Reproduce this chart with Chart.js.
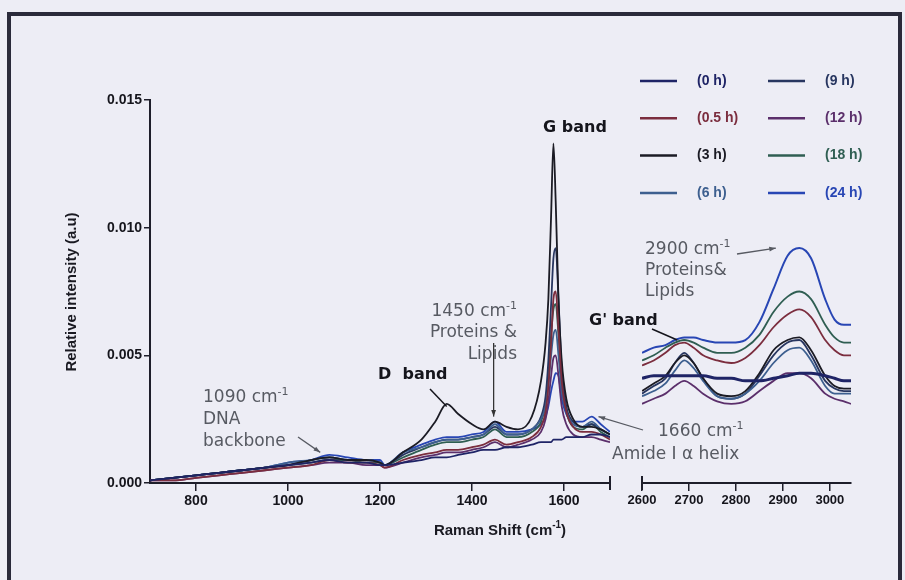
<!DOCTYPE html>
<html>
<head>
<meta charset="utf-8">
<script src="https://cdn.jsdelivr.net/npm/chart.js@4.4.0/dist/chart.umd.min.js"></script>
<style>
  html, body { margin: 0; padding: 0; width: 905px; height: 580px; overflow: hidden; background: #ededf5; }
  #frame { position: absolute; left: 7px; top: 12px; width: 887px; height: 620px; border: 4px solid #2a2a3a; }
  canvas { position: absolute; left: 0; top: 0; }
</style>
</head>
<body>
<div id="frame"></div>
<canvas id="left" width="905" height="580"></canvas>
<canvas id="right" width="905" height="580"></canvas>
<script>
// series (legend order: column 1 then column 2)
const seriesNames = ['(0 h)', '(0.5 h)', '(3 h)', '(6 h)', '(9 h)', '(12 h)', '(18 h)', '(24 h)'];
const seriesColors = ['#1f2466', '#7b2d3e', '#1b1b24', '#3d5f8f', '#283660', '#5b2f6b', '#2f5e52', '#2846b4'];

// left panel: 700 - 1700 cm-1
const xLeft = [700, 750, 800, 850, 900, 950, 1000, 1050, 1090, 1130, 1170, 1200, 1210,
  1250, 1290, 1320, 1345, 1370, 1400, 1425, 1450, 1475, 1500, 1530, 1550, 1560, 1566,
  1572, 1577, 1582, 1588, 1595, 1605, 1620, 1640, 1660, 1680, 1700];

const left0h  = [0.0001,0.0002,0.0003,0.0004,0.0005,0.0006,0.0007,0.0008,0.0009,0.0008,0.0008,0.0007,0.0007,
  0.0008,0.0009,0.0010,0.0010,0.0011,0.0012,0.0013,0.0013,0.0014,0.0014,0.0015,0.0016,0.0016,0.0016,
  0.0016,0.0017,0.0017,0.0017,0.0017,0.0018,0.0018,0.0018,0.0019,0.0019,0.0018];
const left05h = [0.0001,0.0001,0.0002,0.0003,0.0004,0.0005,0.0006,0.0007,0.0009,0.0008,0.0008,0.0007,0.0006,
  0.0009,0.0011,0.0012,0.0013,0.0013,0.0014,0.0015,0.0017,0.0015,0.0016,0.0018,0.0022,0.0028,0.0038,
  0.0055,0.0072,0.0075,0.0060,0.0040,0.0028,0.0022,0.0020,0.0020,0.0019,0.0017];
const left3h  = [0.0001,0.0002,0.0003,0.0004,0.0005,0.0006,0.0007,0.0009,0.0010,0.0009,0.0009,0.0008,0.0007,
  0.0012,0.0017,0.0024,0.0031,0.0027,0.0023,0.0021,0.0024,0.0022,0.0021,0.0026,0.0040,0.0055,0.0072,
  0.0105,0.0133,0.0110,0.0072,0.0048,0.0033,0.0025,0.0022,0.0022,0.0021,0.0019];
const left6h  = [0.0001,0.0002,0.0003,0.0004,0.0005,0.0006,0.0008,0.0009,0.0010,0.0009,0.0009,0.0008,0.0007,
  0.0012,0.0014,0.0016,0.0017,0.0017,0.0018,0.0019,0.0023,0.0019,0.0019,0.0021,0.0025,0.0030,0.0038,
  0.0050,0.0058,0.0060,0.0050,0.0036,0.0028,0.0023,0.0022,0.0024,0.0021,0.0019];
const left9h  = [0.0001,0.0002,0.0003,0.0004,0.0005,0.0006,0.0007,0.0009,0.0010,0.0009,0.0009,0.0008,0.0007,
  0.0011,0.0014,0.0016,0.0017,0.0017,0.0018,0.0019,0.0022,0.0019,0.0019,0.0021,0.0026,0.0034,0.0048,
  0.0070,0.0088,0.0092,0.0072,0.0045,0.0030,0.0024,0.0022,0.0023,0.0021,0.0019];
const left12h = [0.0001,0.0001,0.0002,0.0003,0.0004,0.0005,0.0006,0.0007,0.0008,0.0008,0.0007,0.0007,0.0006,
  0.0008,0.0010,0.0011,0.0012,0.0012,0.0013,0.0014,0.0016,0.0014,0.0015,0.0017,0.0020,0.0025,0.0032,
  0.0042,0.0049,0.0050,0.0042,0.0030,0.0023,0.0019,0.0018,0.0018,0.0017,0.0016];
const left18h = [0.0001,0.0002,0.0003,0.0004,0.0005,0.0006,0.0007,0.0008,0.0009,0.0009,0.0008,0.0008,0.0007,
  0.0010,0.0013,0.0015,0.0016,0.0016,0.0017,0.0018,0.0021,0.0018,0.0018,0.0020,0.0024,0.0031,0.0042,
  0.0058,0.0068,0.0070,0.0058,0.0040,0.0028,0.0022,0.0021,0.0023,0.0020,0.0018];
const left24h = [0.0001,0.0002,0.0003,0.0004,0.0005,0.0006,0.0008,0.0009,0.0011,0.0010,0.0009,0.0009,0.0007,
  0.0012,0.0015,0.0017,0.0018,0.0018,0.0019,0.0020,0.0024,0.0020,0.0020,0.0021,0.0023,0.0026,0.0030,
  0.0036,0.0040,0.0043,0.0042,0.0033,0.0027,0.0024,0.0024,0.0026,0.0023,0.0020];

// right panel: 2600 - 3045 cm-1
const xRight = [2600, 2625, 2650, 2670, 2690, 2710, 2730, 2760, 2790, 2820, 2850, 2880, 2910, 2935, 2960, 2990, 3010, 3030, 3045];

const right0h  = [0.0041,0.0042,0.0042,0.0042,0.0042,0.0042,0.0042,0.0041,0.0041,0.0040,0.0040,0.0041,0.0042,0.0043,0.0043,0.0042,0.0041,0.0040,0.0040];
const right05h = [0.0046,0.0048,0.0051,0.0054,0.0055,0.0053,0.0050,0.0048,0.0047,0.0049,0.0054,0.0061,0.0066,0.0068,0.0065,0.0056,0.0052,0.0050,0.0050];
const right3h  = [0.0036,0.0039,0.0042,0.0047,0.0050,0.0047,0.0041,0.0035,0.0034,0.0036,0.0043,0.0052,0.0056,0.0057,0.0052,0.0042,0.0038,0.0037,0.0037];
const right6h  = [0.0034,0.0036,0.0039,0.0044,0.0048,0.0045,0.0040,0.0034,0.0033,0.0035,0.0040,0.0047,0.0052,0.0053,0.0048,0.0038,0.0035,0.0035,0.0035];
const right9h  = [0.0035,0.0038,0.0041,0.0047,0.0051,0.0047,0.0041,0.0034,0.0033,0.0035,0.0042,0.0050,0.0055,0.0056,0.0050,0.0040,0.0037,0.0036,0.0036];
const right12h = [0.0031,0.0033,0.0035,0.0038,0.0040,0.0038,0.0035,0.0032,0.0031,0.0032,0.0036,0.0040,0.0043,0.0043,0.0041,0.0035,0.0033,0.0032,0.0031];
const right18h = [0.0048,0.0050,0.0053,0.0055,0.0056,0.0055,0.0053,0.0051,0.0051,0.0053,0.0058,0.0067,0.0073,0.0075,0.0072,0.0062,0.0057,0.0055,0.0055];
const right24h = [0.0051,0.0053,0.0054,0.0056,0.0057,0.0057,0.0056,0.0055,0.0055,0.0056,0.0063,0.0076,0.0089,0.0092,0.0088,0.0072,0.0064,0.0062,0.0062];

const leftSeries = [left0h, left05h, left3h, left6h, left9h, left12h, left18h, left24h];
const rightSeries = [right0h, right05h, right3h, right6h, right9h, right12h, right18h, right24h];

// tick labels
const yTicks = [0, 0.005, 0.010, 0.015];
const xTicksLeft = [800, 1000, 1200, 1400, 1600];
const xTicksRight = [2600, 2700, 2800, 2900, 3000];

const AXIS = '#1e1e2a';
const GREY = '#575a62';
const TICKFONT = { family: "'Liberation Sans', Arial, sans-serif", size: 14, weight: 'bold' };

function makeDatasets(xs, series, widths) {
  return series.map((vals, i) => ({
    label: seriesNames[i],
    data: xs.map((x, j) => ({ x: x, y: vals[j] })),
    borderColor: seriesColors[i],
    borderWidth: widths ? widths[i] : 1.8,
    pointRadius: 0,
    fill: false,
    cubicInterpolationMode: 'monotone'
  }));
}

// text with superscript pieces: parts = [[text, isSup], ...]
function drawParts(ctx, parts, x, y, font, supFont, align) {
  let total = 0;
  parts.forEach(p => { ctx.font = p[1] ? supFont : font; total += ctx.measureText(p[0]).width; });
  let cx = align === 'center' ? x - total / 2 : (align === 'right' ? x - total : x);
  ctx.textAlign = 'left';
  parts.forEach(p => {
    ctx.font = p[1] ? supFont : font;
    ctx.fillText(p[0], cx, p[1] ? y - 6 : y);
    cx += ctx.measureText(p[0]).width;
  });
}

function arrow(ctx, x1, y1, x2, y2, head) {
  ctx.beginPath();
  ctx.moveTo(x1, y1);
  ctx.lineTo(x2, y2);
  ctx.stroke();
  if (head) {
    const a = Math.atan2(y2 - y1, x2 - x1);
    ctx.beginPath();
    ctx.moveTo(x2, y2);
    ctx.lineTo(x2 - 7 * Math.cos(a - 0.35), y2 - 7 * Math.sin(a - 0.35));
    ctx.lineTo(x2 - 7 * Math.cos(a + 0.35), y2 - 7 * Math.sin(a + 0.35));
    ctx.closePath();
    ctx.fill();
  }
}

const annFont = "17px 'DejaVu Sans', sans-serif";
const annSup = "11px 'DejaVu Sans', sans-serif";
const boldFont = "bold 16px 'DejaVu Sans', sans-serif";

// left panel: axis titles, end cap, annotations
const leftDecor = {
  id: 'leftDecor',
  afterDraw(chart) {
    const ctx = chart.ctx, xs = chart.scales.x, ys = chart.scales.y;
    ctx.save();
    // end cap at 1700
    ctx.strokeStyle = AXIS; ctx.lineWidth = 2;
    const xe = xs.getPixelForValue(1700);
    ctx.beginPath(); ctx.moveTo(xe, ys.bottom - 7); ctx.lineTo(xe, ys.bottom + 7); ctx.stroke();

    // axis titles
    ctx.fillStyle = '#1a1a22';
    ctx.textBaseline = 'middle';
    drawParts(ctx, [['Raman Shift (cm', false], ['-1', true], [')', false]], 500, 531,
      "bold 15px 'Liberation Sans', Arial, sans-serif", "bold 10px 'Liberation Sans', Arial, sans-serif", 'center');
    ctx.save();
    ctx.translate(72, 292);
    ctx.rotate(-Math.PI / 2);
    ctx.font = "bold 15px 'Liberation Sans', Arial, sans-serif";
    ctx.textAlign = 'center';
    ctx.fillText('Relative intensity (a.u)', 0, 0);
    ctx.restore();

    // grey annotations
    ctx.fillStyle = GREY; ctx.strokeStyle = GREY; ctx.lineWidth = 1.3;
    drawParts(ctx, [['1090 cm', false], ['-1', true]], 203, 398, annFont, annSup, 'left');
    drawParts(ctx, [['DNA', false]], 203, 420, annFont, annSup, 'left');
    drawParts(ctx, [['backbone', false]], 203, 442, annFont, annSup, 'left');
    arrow(ctx, 298, 437, xs.getPixelForValue(1070), ys.getPixelForValue(0.0012), true);

    drawParts(ctx, [['1450 cm', false], ['-1', true]], 517, 312, annFont, annSup, 'right');
    drawParts(ctx, [['Proteins &', false]], 517, 333, annFont, annSup, 'right');
    drawParts(ctx, [['Lipids', false]], 517, 355, annFont, annSup, 'right');
    ctx.strokeStyle = '#333'; ctx.fillStyle = '#333';
    arrow(ctx, xs.getPixelForValue(1447), 343, xs.getPixelForValue(1447), ys.getPixelForValue(0.0026), true);

    ctx.fillStyle = GREY; ctx.strokeStyle = GREY;
    drawParts(ctx, [['1660 cm', false], ['-1', true]], 658, 432, annFont, annSup, 'left');
    drawParts(ctx, [['Amide I \u03b1 helix', false]], 612, 455, annFont, annSup, 'left');
    arrow(ctx, 643, 430, xs.getPixelForValue(1675), ys.getPixelForValue(0.0026), true);

    // bold band labels
    ctx.fillStyle = '#15151c'; ctx.strokeStyle = '#15151c'; ctx.lineWidth = 1.5;
    drawParts(ctx, [['D  band', false]], 378, 375, boldFont, boldFont, 'left');
    arrow(ctx, 430, 389, xs.getPixelForValue(1345), ys.getPixelForValue(0.0030), false);
    drawParts(ctx, [['G band', false]], 575, 128, boldFont, boldFont, 'center');
    ctx.restore();
  }
};

// right panel: start cap, legend, annotations
const rightDecor = {
  id: 'rightDecor',
  afterDraw(chart) {
    const ctx = chart.ctx, xs = chart.scales.x, ys = chart.scales.y;
    ctx.save();
    ctx.strokeStyle = AXIS; ctx.lineWidth = 2;
    const xs0 = xs.getPixelForValue(2600);
    ctx.beginPath(); ctx.moveTo(xs0, ys.bottom - 7); ctx.lineTo(xs0, ys.bottom + 7); ctx.stroke();

    // legend, two columns of four
    ctx.textBaseline = 'middle';
    seriesNames.forEach((name, i) => {
      const col = Math.floor(i / 4), row = i % 4;
      const y = 81 + row * 37.3;
      const lx = col === 0 ? 640 : 768;
      const tx = col === 0 ? 697 : 825;
      ctx.strokeStyle = seriesColors[i]; ctx.lineWidth = 2.5;
      ctx.beginPath(); ctx.moveTo(lx, y); ctx.lineTo(lx + 37, y); ctx.stroke();
      ctx.fillStyle = seriesColors[i];
      ctx.font = "bold 14px 'Liberation Sans', Arial, sans-serif";
      ctx.textAlign = 'left';
      ctx.fillText(name, tx, y);
    });

    ctx.fillStyle = GREY; ctx.strokeStyle = GREY; ctx.lineWidth = 1.3;
    drawParts(ctx, [['2900 cm', false], ['-1', true]], 645, 250, annFont, annSup, 'left');
    drawParts(ctx, [['Proteins&', false]], 645, 271, annFont, annSup, 'left');
    drawParts(ctx, [['Lipids', false]], 645, 292, annFont, annSup, 'left');
    arrow(ctx, 737, 254, xs.getPixelForValue(2885), ys.getPixelForValue(0.0092), true);

    ctx.fillStyle = '#15151c'; ctx.strokeStyle = '#15151c'; ctx.lineWidth = 1.5;
    drawParts(ctx, [["G' band", false]], 589, 321, boldFont, boldFont, 'left');
    arrow(ctx, 652, 329, xs.getPixelForValue(2675), ys.getPixelForValue(0.0056), false);
    ctx.restore();
  }
};

const commonY = {
  min: 0, max: 0.015,
  afterBuildTicks: s => { s.ticks = yTicks.map(v => ({ value: v })); }
};

new Chart(document.getElementById('left'), {
  type: 'line',
  data: { datasets: makeDatasets(xLeft, leftSeries) },
  options: {
    responsive: false, animation: false,
    layout: { padding: { left: 100, top: 100, right: 295, bottom: 57 } },
    plugins: { legend: { display: false }, tooltip: { enabled: false } },
    scales: {
      x: {
        type: 'linear', min: 700, max: 1700,
        afterBuildTicks: s => { s.ticks = xTicksLeft.map(v => ({ value: v })); },
        afterFit: s => { s.height = 40; },
        grid: { drawOnChartArea: false, drawTicks: true, tickLength: 8, color: AXIS, lineWidth: 1.5 },
        border: { display: true, color: AXIS, width: 2 },
        ticks: { color: '#15151c', font: TICKFONT, padding: 2, maxRotation: 0, callback: v => String(v) }
      },
      y: Object.assign({}, commonY, {
        afterFit: s => { s.width = 50; },
        grid: { drawOnChartArea: false, drawTicks: true, tickLength: 6, color: AXIS, lineWidth: 1.5 },
        border: { display: true, color: AXIS, width: 2 },
        ticks: { color: '#15151c', font: TICKFONT, padding: 2, callback: v => v.toFixed(3) }
      })
    }
  },
  plugins: [leftDecor]
});

new Chart(document.getElementById('right'), {
  type: 'line',
  data: { datasets: makeDatasets(xRight, rightSeries, [3, 1.8, 1.8, 1.8, 1.8, 1.8, 1.8, 2]) },
  options: {
    responsive: false, animation: false,
    layout: { padding: { left: 642, top: 100, right: 54, bottom: 57 } },
    plugins: { legend: { display: false }, tooltip: { enabled: false } },
    scales: {
      x: {
        type: 'linear', min: 2600, max: 3045,
        afterBuildTicks: s => { s.ticks = xTicksRight.map(v => ({ value: v })); },
        afterFit: s => { s.height = 40; },
        grid: { drawOnChartArea: false, drawTicks: true, tickLength: 8, color: AXIS, lineWidth: 1.5 },
        border: { display: true, color: AXIS, width: 2 },
        ticks: { color: '#15151c', font: { family: "'Liberation Sans', Arial, sans-serif", size: 13, weight: 'bold' }, padding: 2, maxRotation: 0, callback: v => String(v) }
      },
      y: Object.assign({}, commonY, { display: false })
    }
  },
  plugins: [rightDecor]
});
</script>
</body>
</html>
